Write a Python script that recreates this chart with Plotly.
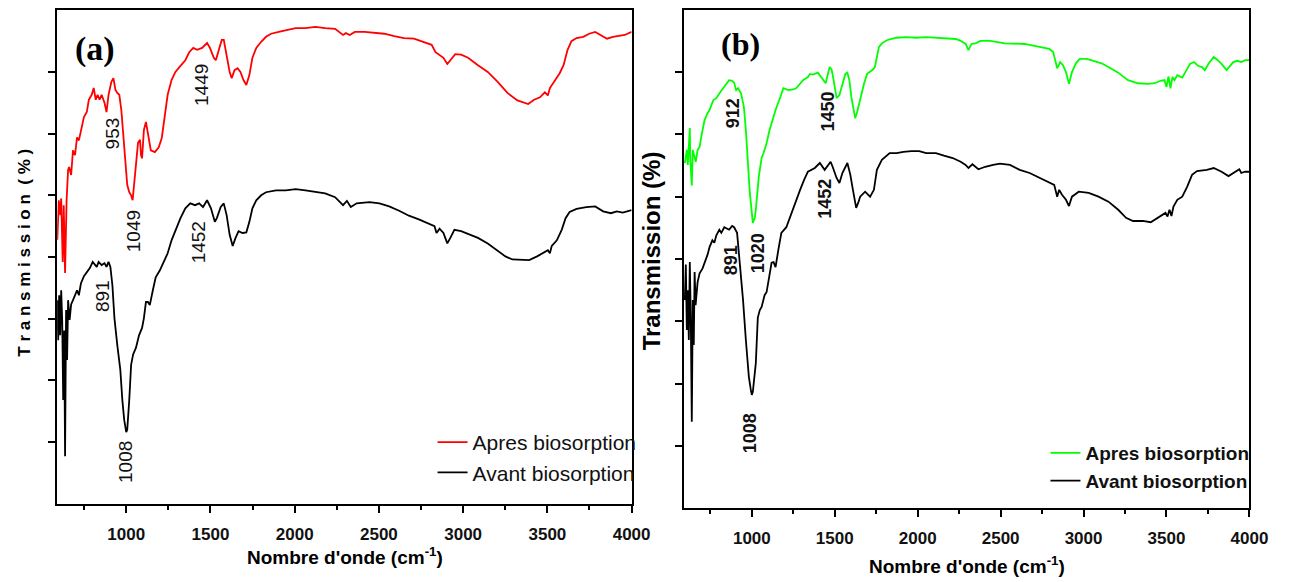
import plotly.graph_objects as go

# ---------------- data (wavenumber in cm-1, transmission in arbitrary axis units) -------------
wn_a_apres = [591, 600, 609, 614, 623, 629, 637, 646, 655, 661, 673, 684, 696, 708, 719, 731, 749, 766, 778, 795,
              807, 819, 830, 842, 854, 871, 883, 895, 912, 924, 936, 947, 959, 971, 982, 994, 1006, 1018, 1029, 1038,
              1047, 1058, 1070, 1082, 1088, 1094, 1105, 1117, 1129, 1146, 1170, 1193, 1211, 1228, 1246, 1269, 1292,
              1322, 1351, 1374, 1398, 1421, 1450, 1480, 1497, 1520, 1532, 1550, 1567, 1579, 1596, 1614, 1626, 1643,
              1661, 1678, 1696, 1713, 1731, 1749, 1772, 1801, 1830, 1860, 1918, 2006, 2064, 2123, 2181, 2240, 2287,
              2304, 2327, 2357, 2415, 2474, 2532, 2591, 2649, 2708, 2766, 2813, 2836, 2854, 2883, 2906, 2924, 2953,
              2988, 3029, 3088, 3146, 3205, 3263, 3322, 3363, 3386, 3421, 3456, 3485, 3503, 3515, 3538, 3573, 3596,
              3620, 3643, 3673, 3713, 3748, 3784, 3819, 3854, 3889, 3924, 3959, 4000]
t_a_apres = [4.28, 4.92, 4.68, 4.95, 3.92, 4.84, 3.74, 4.92, 5.41, 5.46, 5.33, 5.73, 5.65, 5.94, 5.89, 6.06, 6.27, 6.35,
             6.55, 6.63, 6.74, 6.55, 6.63, 6.55, 6.63, 6.50, 6.35, 6.63, 6.84, 6.90, 6.71, 6.66, 6.63, 6.38, 5.98, 5.46,
             5.17, 5.05, 5.00, 4.92, 5.17, 5.57, 5.85, 5.90, 5.65, 5.60, 6.06, 6.19, 5.98, 5.73, 5.70, 5.78, 5.93, 6.25,
             6.63, 6.87, 7.00, 7.10, 7.19, 7.32, 7.39, 7.36, 7.39, 7.47, 7.39, 7.23, 7.19, 7.36, 7.52, 7.52, 7.27, 7.00,
             6.90, 7.03, 7.06, 7.00, 6.87, 6.79, 6.95, 7.23, 7.39, 7.49, 7.57, 7.62, 7.66, 7.71, 7.71, 7.73, 7.71, 7.70,
             7.60, 7.63, 7.60, 7.65, 7.65, 7.63, 7.62, 7.58, 7.55, 7.54, 7.49, 7.44, 7.32, 7.28, 7.23, 7.13, 7.19, 7.29,
             7.28, 7.23, 7.11, 7.00, 6.84, 6.66, 6.54, 6.50, 6.48, 6.55, 6.59, 6.67, 6.62, 6.74, 6.84, 6.98, 7.11, 7.36,
             7.50, 7.55, 7.57, 7.62, 7.65, 7.60, 7.54, 7.57, 7.58, 7.60, 7.65]

wn_a_avant = [591, 596, 602, 608, 614, 620, 626, 632, 637, 643, 649, 655, 664, 673, 684, 696, 708, 719, 731, 749, 766,
              784, 801, 813, 825, 836, 854, 871, 883, 895, 906, 918, 930, 947, 965, 977, 988, 1000, 1006, 1018, 1029,
              1041, 1058, 1076, 1088, 1094, 1105, 1117, 1129, 1140, 1158, 1175, 1199, 1222, 1246, 1269, 1292, 1322,
              1351, 1380, 1409, 1433, 1456, 1480, 1503, 1526, 1538, 1561, 1579, 1596, 1614, 1632, 1649, 1667, 1690,
              1713, 1731, 1749, 1772, 1801, 1830, 1889, 1947, 2006, 2064, 2123, 2181, 2240, 2287, 2310, 2333, 2368,
              2444, 2503, 2561, 2620, 2678, 2737, 2795, 2830, 2842, 2860, 2883, 2906, 2924, 2948, 2988, 3029, 3088,
              3146, 3205, 3251, 3292, 3351, 3392, 3439, 3479, 3503, 3515, 3526, 3556, 3585, 3608, 3632, 3673, 3731,
              3784, 3831, 3877, 3912, 3947, 4000]
t_a_avant = [3.30, 2.65, 3.38, 2.73, 3.46, 2.98, 1.68, 2.81, 0.77, 3.14, 2.33, 3.30, 2.98, 3.23, 3.30, 3.38, 3.46, 3.38,
             3.57, 3.69, 3.75, 3.82, 3.92, 3.88, 3.84, 3.92, 3.87, 3.90, 3.84, 3.92, 3.84, 3.54, 3.01, 2.57, 2.17, 1.68,
             1.36, 1.16, 1.20, 1.68, 2.25, 2.42, 2.53, 2.73, 2.81, 2.85, 3.01, 3.27, 3.27, 3.22, 3.46, 3.67, 3.78, 3.92,
             4.06, 4.27, 4.44, 4.63, 4.79, 4.87, 4.84, 4.87, 4.81, 4.92, 4.79, 4.57, 4.63, 4.81, 4.87, 4.68, 4.36, 4.18,
             4.31, 4.42, 4.39, 4.40, 4.57, 4.79, 4.92, 5.00, 5.05, 5.08, 5.08, 5.10, 5.08, 5.06, 5.03, 4.97, 4.84, 4.91,
             4.81, 4.87, 4.89, 4.87, 4.82, 4.75, 4.67, 4.61, 4.54, 4.50, 4.39, 4.46, 4.39, 4.22, 4.31, 4.44, 4.42, 4.37,
             4.31, 4.22, 4.11, 4.01, 3.96, 3.95, 3.95, 4.01, 4.08, 4.11, 4.06, 4.18, 4.27, 4.44, 4.63, 4.73, 4.78, 4.81,
             4.82, 4.74, 4.71, 4.74, 4.72, 4.76]

wn_b_apres = [596, 608, 614, 620, 626, 629, 638, 644, 650, 662, 673, 685, 697, 715, 733, 745, 768, 786, 810, 834, 863,
              881, 893, 905, 917, 935, 952, 964, 970, 982, 988, 1000, 1006, 1018, 1024, 1042, 1059, 1071, 1089, 1107,
              1119, 1143, 1172, 1190, 1220, 1249, 1267, 1291, 1309, 1327, 1338, 1350, 1368, 1398, 1428, 1445, 1469,
              1481, 1493, 1511, 1528, 1546, 1564, 1576, 1588, 1600, 1612, 1623, 1635, 1647, 1665, 1677, 1695, 1713,
              1730, 1742, 1754, 1766, 1784, 1814, 1843, 1873, 1932, 1992, 2051, 2110, 2170, 2229, 2259, 2289, 2306,
              2324, 2348, 2378, 2437, 2526, 2645, 2734, 2793, 2817, 2835, 2841, 2859, 2876, 2894, 2912, 2930, 2954,
              2977, 3019, 3060, 3108, 3150, 3209, 3268, 3328, 3387, 3429, 3464, 3488, 3500, 3512, 3524, 3536, 3548,
              3565, 3595, 3619, 3642, 3666, 3690, 3714, 3731, 3755, 3785, 3809, 3832, 3862, 3886, 3903, 3927, 3951,
              3974, 4000]
t_b_apres = [5.54, 5.75, 5.51, 5.91, 6.10, 5.59, 5.18, 5.75, 5.67, 5.56, 5.75, 5.80, 5.99, 6.23, 6.34, 6.39, 6.55, 6.58,
             6.68, 6.76, 6.87, 6.86, 6.83, 6.71, 6.74, 6.66, 6.44, 6.07, 5.75, 5.30, 5.06, 4.71, 4.58, 4.66, 4.79, 5.32,
             5.62, 5.70, 5.86, 6.07, 6.18, 6.39, 6.60, 6.74, 6.71, 6.72, 6.74, 6.82, 6.87, 6.90, 6.92, 6.97, 6.96, 6.99,
             6.87, 6.82, 7.08, 7.04, 6.87, 6.58, 6.63, 6.79, 6.97, 6.99, 6.87, 6.60, 6.39, 6.26, 6.36, 6.50, 6.71, 6.82,
             6.97, 7.00, 7.04, 7.08, 7.27, 7.40, 7.46, 7.51, 7.53, 7.55, 7.56, 7.55, 7.56, 7.55, 7.55, 7.53, 7.50, 7.45,
             7.35, 7.45, 7.46, 7.50, 7.50, 7.46, 7.45, 7.40, 7.37, 7.32, 7.13, 7.06, 7.16, 7.11, 7.00, 6.81, 7.00, 7.14,
             7.21, 7.21, 7.18, 7.14, 7.08, 6.99, 6.87, 6.82, 6.81, 6.82, 6.86, 6.87, 6.76, 6.93, 6.74, 6.92, 6.87, 6.95,
             6.91, 7.03, 7.13, 7.16, 7.10, 7.08, 7.03, 7.14, 7.24, 7.19, 7.13, 7.03, 7.10, 7.16, 7.18, 7.16, 7.19, 7.19]

wn_b_avant = [596, 602, 608, 614, 620, 626, 632, 638, 644, 650, 655, 661, 673, 685, 703, 715, 733, 745, 762, 774, 786,
              804, 816, 834, 852, 863, 881, 893, 911, 923, 935, 947, 964, 982, 994, 1000, 1006, 1024, 1036, 1048, 1059,
              1077, 1089, 1101, 1119, 1131, 1143, 1160, 1178, 1208, 1238, 1261, 1291, 1315, 1338, 1380, 1410, 1439,
              1475, 1487, 1511, 1528, 1546, 1576, 1594, 1606, 1629, 1641, 1653, 1683, 1713, 1736, 1754, 1784, 1814,
              1831, 1873, 1914, 1962, 2009, 2051, 2110, 2158, 2211, 2259, 2289, 2306, 2330, 2366, 2407, 2455, 2496,
              2556, 2615, 2675, 2734, 2793, 2823, 2841, 2853, 2870, 2894, 2912, 2930, 2971, 3031, 3090, 3150, 3209,
              3256, 3298, 3357, 3405, 3447, 3477, 3494, 3506, 3518, 3530, 3542, 3565, 3595, 3625, 3654, 3684, 3743,
              3785, 3832, 3874, 3903, 3921, 3939, 3951, 3974, 4000]
t_b_avant = [3.34, 3.91, 2.86, 3.50, 2.70, 3.95, 3.02, 1.39, 3.34, 2.62, 3.79, 3.26, 3.63, 3.77, 3.85, 3.93, 4.07, 4.19,
             4.30, 4.26, 4.38, 4.47, 4.42, 4.51, 4.48, 4.47, 4.53, 4.51, 4.42, 4.09, 3.74, 3.34, 2.70, 2.11, 1.90, 1.82,
             1.87, 2.33, 3.06, 3.18, 3.23, 3.42, 3.47, 3.67, 3.94, 3.95, 3.87, 4.15, 4.42, 4.51, 4.74, 4.90, 5.11, 5.27,
             5.40, 5.46, 5.54, 5.43, 5.56, 5.48, 5.30, 5.22, 5.38, 5.54, 5.35, 5.16, 4.82, 4.90, 5.00, 5.08, 5.00, 5.11,
             5.43, 5.59, 5.67, 5.70, 5.70, 5.72, 5.73, 5.73, 5.70, 5.70, 5.66, 5.62, 5.56, 5.51, 5.46, 5.52, 5.44, 5.48,
             5.51, 5.53, 5.51, 5.43, 5.38, 5.30, 5.22, 5.19, 5.00, 5.11, 5.03, 4.95, 4.85, 5.00, 5.08, 5.06, 5.00, 4.92,
             4.79, 4.66, 4.61, 4.61, 4.59, 4.66, 4.71, 4.74, 4.68, 4.79, 4.69, 4.84, 4.95, 5.00, 5.16, 5.35, 5.41, 5.43,
             5.46, 5.40, 5.33, 5.38, 5.40, 5.44, 5.38, 5.40, 5.40]

# peak labels (text, wavenumber, transmission position of the label centre)
peaks_a_text = ["953", "1049", "1449", "891", "1008", "1452"]
peaks_a_wn = [918, 1041, 1450, 860, 1000, 1427]
peaks_a_t = [6.01, 4.42, 6.79, 3.36, 0.68, 4.24]

peaks_b_text = ["912", "1020", "1450", "891", "1008", "1452"]
peaks_b_wn = [887, 1042, 1457, 875, 988, 1445]
peaks_b_t = [6.34, 4.09, 6.36, 3.98, 1.20, 4.96]

x_ticks = [1000, 1500, 2000, 2500, 3000, 3500, 4000]
x_minor_ticks = [750, 1250, 1750, 2250, 2750, 3250, 3750]
series_names = ["Apres biosorption", "Avant biosorption"]

# ---------------- figure ----------------
W, H = 1297, 582
fig = go.Figure()

RED, GREEN, BLACK = "#ff0000", "#00ff00", "#000000"
LW = 1.8

fig.add_trace(go.Scatter(x=wn_a_apres, y=t_a_apres, mode="lines", name=series_names[0],
                         line=dict(color=RED, width=LW), xaxis="x", yaxis="y",
                         legend="legend", legendgroup="a1"))
fig.add_trace(go.Scatter(x=wn_a_avant, y=t_a_avant, mode="lines", name=series_names[1],
                         line=dict(color=BLACK, width=LW), xaxis="x", yaxis="y",
                         legend="legend", legendgroup="a2"))
fig.add_trace(go.Scatter(x=wn_b_apres, y=t_b_apres, mode="lines", name="<b>" + series_names[0] + "</b>",
                         line=dict(color=GREEN, width=LW), xaxis="x2", yaxis="y2",
                         legend="legend2", legendgroup="b1"))
fig.add_trace(go.Scatter(x=wn_b_avant, y=t_b_avant, mode="lines", name="<b>" + series_names[1] + "</b>",
                         line=dict(color=BLACK, width=LW), xaxis="x2", yaxis="y2",
                         legend="legend2", legendgroup="b2"))

FONT = "Arial, Liberation Sans, sans-serif"


def xaxis_cfg(domain, anchor, standoff):
    return dict(domain=domain, anchor=anchor, range=[590, 4000], tickvals=x_ticks,
                ticktext=[f"<b>{v}</b>" for v in x_ticks],
                ticks="outside", ticklen=7, tickwidth=1.5, tickcolor="#000",
                ticklabelstandoff=standoff,
                minor=dict(ticks="outside", ticklen=4, tickwidth=1.5, tickcolor="#000",
                           tickvals=x_minor_ticks),
                showline=True, linecolor="#000", linewidth=2, mirror=True,
                showgrid=False, zeroline=False,
                tickfont=dict(family=FONT, size=17, color="#111"))


def yaxis_cfg(domain, anchor):
    return dict(domain=domain, anchor=anchor, range=[0, 8], tickvals=[1, 2, 3, 4, 5, 6, 7],
                showticklabels=False, ticks="outside", ticklen=7, tickwidth=1.5, tickcolor="#000",
                showline=True, linecolor="#000", linewidth=2, mirror=True,
                showgrid=False, zeroline=False)


ya_dom = [(H - 503.7) / H, (H - 10.3) / H]
yb_dom = [(H - 508.3) / H, (H - 9.7) / H]
fig.update_layout(
    width=W, height=H, margin=dict(l=0, r=0, t=0, b=0),
    paper_bgcolor="white", plot_bgcolor="white",
    xaxis=xaxis_cfg([58 / W, 641 / W], "y", 7),
    yaxis=yaxis_cfg(ya_dom, "x"),
    xaxis2=xaxis_cfg([694 / W, 1268 / W], "y2", 6),
    yaxis2=yaxis_cfg(yb_dom, "x2"),
    legend=dict(x=439 / W, y=(H - 422) / H, xanchor="left", yanchor="top",
                bgcolor="rgba(0,0,0,0)", tracegroupgap=2, traceorder="normal",
                font=dict(family=FONT, size=21, color="#111")),
    legend2=dict(x=1061 / W, y=(H - 434) / H, xanchor="left", yanchor="top",
                 bgcolor="rgba(0,0,0,0)", tracegroupgap=5, traceorder="normal",
                 font=dict(family=FONT, size=19, color="#111")),
)

annotations = []
for txt, xw, yt in zip(peaks_a_text, peaks_a_wn, peaks_a_t):
    annotations.append(dict(x=xw, y=yt, xref="x", yref="y", text=txt, showarrow=False, textangle=-90,
                            xanchor="center", yanchor="middle",
                            font=dict(family=FONT, size=19, color="#111")))
for txt, xw, yt in zip(peaks_b_text, peaks_b_wn, peaks_b_t):
    annotations.append(dict(x=xw, y=yt, xref="x2", yref="y2", text="<b>" + txt + "</b>", showarrow=False,
                            textangle=-90, xanchor="center", yanchor="middle",
                            font=dict(family=FONT, size=18, color="#111")))


def paper_text(px, py, text, size, family=FONT, angle=0):
    return dict(x=px / W, y=(H - py) / H, xref="paper", yref="paper", text=text, showarrow=False,
                xanchor="center", yanchor="middle", textangle=angle,
                font=dict(family=family, size=size, color="#000" if "serif" in family.lower() else "#111"))


SERIF = "Liberation Serif, Times New Roman, serif"
annotations.append(paper_text(96, 49, "<b>(a)</b>", 34, SERIF))
annotations.append(paper_text(752, 44, "<b>(b)</b>", 32, SERIF))
annotations.append(paper_text(24, 253, "<b>T r a n s m i s s i o n  ( % )</b>", 17, angle=-90))
annotations.append(paper_text(661, 251, "<b>Transmission (%)</b>", 24, angle=-90))
annotations.append(paper_text(350, 556, "<b>Nombre d'onde (cm<sup>-1</sup>)</b>", 19))
annotations.append(paper_text(981, 565, "<b>Nombre d'onde (cm<sup>-1</sup>)</b>", 19))

fig.update_layout(annotations=annotations)

fig.write_html("out.html")
